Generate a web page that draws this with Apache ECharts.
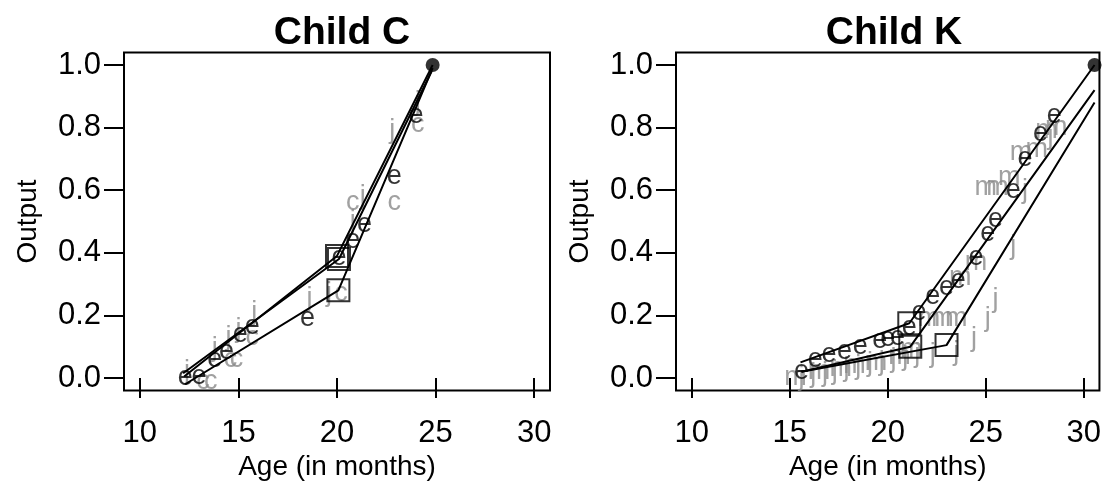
<!DOCTYPE html>
<html>
<head>
<meta charset="utf-8">
<script src="https://cdn.jsdelivr.net/npm/echarts@6/dist/echarts.min.js"></script>
<style>
  html, body { margin: 0; padding: 0; background: #fff; }
  #chart { width: 1104px; height: 488px; }
</style>
</head>
<body>
<div id="chart"></div>
<script>
// ---- Child C: observed outputs by age, one letter per measure ----
const cE_age = [12.3, 13.0, 13.8, 14.4, 15.1, 15.7, 18.5, 20.1, 20.8, 21.4, 22.9, 24.0];
const cE_out = [0.00, 0.005, 0.06, 0.085, 0.14, 0.165, 0.19, 0.385, 0.44, 0.49, 0.645, 0.84];
const cJ_age = [12.4, 13.8, 14.5, 15.0, 15.8, 18.6, 19.6, 20.8, 21.3, 22.8, 24.1];
const cJ_out = [0.02, 0.095, 0.13, 0.155, 0.21, 0.255, 0.27, 0.50, 0.58, 0.79, 0.88];
const cC_age = [13.2, 13.6, 14.6, 14.9, 15.7, 20.2, 20.8, 22.9, 24.1];
const cC_out = [-0.01, -0.01, 0.06, 0.06, 0.13, 0.27, 0.56, 0.56, 0.81];

// piecewise fits for Child C: start, break point, end
const cFitE = [[12.25, 0.005], [20.0, 0.39], [24.85, 1.0]];
const cFitJ = [[12.2, 0.015], [20.1, 0.38], [24.8, 0.98]];
const cFitC = [[12.3, -0.02], [20.07, 0.28], [24.85, 0.99]];
const cEnd = [24.85, 1.0];

// ---- Child K ----
const kE_age = [15.6, 16.3, 17.0, 17.8, 18.6, 19.6, 20.0, 20.5, 21.1, 21.6, 22.3, 23.0, 23.6, 24.5, 25.1, 25.5, 26.4, 27.0, 27.8, 28.5];
const kE_out = [0.02, 0.06, 0.075, 0.085, 0.10, 0.12, 0.125, 0.13, 0.16, 0.21, 0.26, 0.29, 0.31, 0.385, 0.46, 0.505, 0.60, 0.70, 0.78, 0.84];
const kJ_age = [15.6, 16.2, 16.8, 17.3, 17.9, 18.5, 19.1, 19.7, 20.3, 20.9, 21.5, 22.3, 23.5, 24.4, 25.1, 25.5, 26.4, 27.0, 28.3];
const kJ_out = [0.0, 0.01, 0.015, 0.02, 0.03, 0.035, 0.045, 0.05, 0.06, 0.065, 0.075, 0.076, 0.08, 0.125, 0.19, 0.25, 0.42, 0.60, 0.77];
const kM_age = [15.3, 16.5, 17.6, 18.3, 19.4, 20.6, 21.2, 22.1, 22.8, 23.5, 23.7, 24.5, 25.0, 25.6, 26.2, 26.8, 27.6, 28.1, 28.6];
const kM_out = [0.0, 0.02, 0.03, 0.04, 0.05, 0.07, 0.09, 0.19, 0.19, 0.19, 0.32, 0.37, 0.61, 0.61, 0.64, 0.72, 0.73, 0.79, 0.80];

const kFitE = [[15.55, 0.05], [21.1, 0.175], [30.55, 1.0]];
const kFitJ = [[15.6, 0.02], [21.15, 0.10], [30.55, 0.92]];
const kFitM = [[15.6, 0.02], [23.0, 0.105], [30.55, 0.88]];
const kEnd = [30.55, 1.0];

const titles = ['Child C', 'Child K'];
const xTicks = [10, 15, 20, 25, 30];
const yTicks = [0, 0.2, 0.4, 0.6, 0.8, 1.0];

const FONT = '"Liberation Sans", Arial, Helvetica, sans-serif';
const BLACK = '#000000';
const GREY = '#8a8a8a';

const zip = (a, b) => a.map((v, i) => [v, b[i]]);

function letters(gi, letter, xs, ys, color) {
  return {
    type: 'scatter', xAxisIndex: gi, yAxisIndex: gi,
    data: zip(xs, ys), symbolSize: 1, z: 3,
    itemStyle: { color: 'rgba(0,0,0,0)' },
    label: { show: true, position: 'inside', formatter: letter,
             color: color, fontSize: 27, fontFamily: FONT },
    silent: true, clip: false
  };
}
function fitLine(gi, pts) {
  return {
    type: 'line', xAxisIndex: gi, yAxisIndex: gi, data: pts,
    symbol: 'none', lineStyle: { color: BLACK, width: 2 }, z: 4, silent: true
  };
}
function breakBoxes(gi, fits) {
  return {
    type: 'scatter', xAxisIndex: gi, yAxisIndex: gi,
    data: fits.map(f => f[1]), symbol: 'rect', symbolSize: 22, z: 5,
    itemStyle: { color: 'rgba(0,0,0,0)', borderColor: BLACK, borderWidth: 2 },
    silent: true
  };
}
function endDot(gi, p) {
  return {
    type: 'scatter', xAxisIndex: gi, yAxisIndex: gi, data: [p],
    symbol: 'circle', symbolSize: 14, z: 6, itemStyle: { color: BLACK }, silent: true
  };
}

const gridLefts = [124, 676];
const grids = gridLefts.map(l => ({
  left: l, top: 52.5, width: 426, height: 338, show: true,
  borderColor: BLACK, borderWidth: 2, backgroundColor: 'transparent'
}));

const xAxes = gridLefts.map((l, i) => ({
  type: 'value', gridIndex: i, min: 9.2, max: 30.8,
  name: 'Age (in months)', nameLocation: 'middle', nameGap: 63,
  nameTextStyle: { fontSize: 28, fontFamily: FONT, color: BLACK },
  axisLine: { show: false },
  axisTick: { show: true, customValues: xTicks, length: 20, lineStyle: { color: BLACK, width: 2 } },
  axisLabel: { show: true, customValues: xTicks, margin: 27, fontSize: 31, fontFamily: FONT, color: BLACK },
  splitLine: { show: false }
}));
const yAxes = gridLefts.map((l, i) => ({
  type: 'value', gridIndex: i, min: -0.04, max: 1.04,
  name: 'Output', nameLocation: 'middle', nameGap: 82, nameRotate: 90,
  nameTextStyle: { fontSize: 28, fontFamily: FONT, color: BLACK },
  axisLine: { show: false },
  axisTick: { show: true, customValues: yTicks, length: 20, lineStyle: { color: BLACK, width: 2 } },
  axisLabel: { show: true, customValues: yTicks, margin: 23, fontSize: 31, fontFamily: FONT, color: BLACK,
               formatter: v => v.toFixed(1) },
  splitLine: { show: false }
}));

const series = [
  // Child C
  fitLine(0, cFitE), fitLine(0, cFitJ), fitLine(0, cFitC),
  letters(0, 'c', cC_age, cC_out, GREY),
  letters(0, 'j', cJ_age, cJ_out, GREY),
  letters(0, 'e', cE_age, cE_out, BLACK),
  breakBoxes(0, [cFitE, cFitJ, cFitC]),
  endDot(0, cEnd),
  // Child K
  fitLine(1, kFitE), fitLine(1, kFitJ), fitLine(1, kFitM),
  letters(1, 'm', kM_age, kM_out, GREY),
  letters(1, 'j', kJ_age, kJ_out, GREY),
  letters(1, 'e', kE_age, kE_out, BLACK),
  breakBoxes(1, [kFitE, kFitJ, kFitM]),
  endDot(1, kEnd)
];

const chart = echarts.init(document.getElementById('chart'), null, { renderer: 'canvas' });
chart.setOption({
  animation: false,
  backgroundColor: '#ffffff',
  title: titles.map((t, i) => ({
    text: t, left: gridLefts[i] + 213, top: 9, textAlign: 'center',
    textStyle: { fontSize: 39, fontWeight: 'bold', fontFamily: FONT, color: BLACK }
  })),
  grid: grids,
  xAxis: xAxes,
  yAxis: yAxes,
  series: series
});
</script>
</body>
</html>
